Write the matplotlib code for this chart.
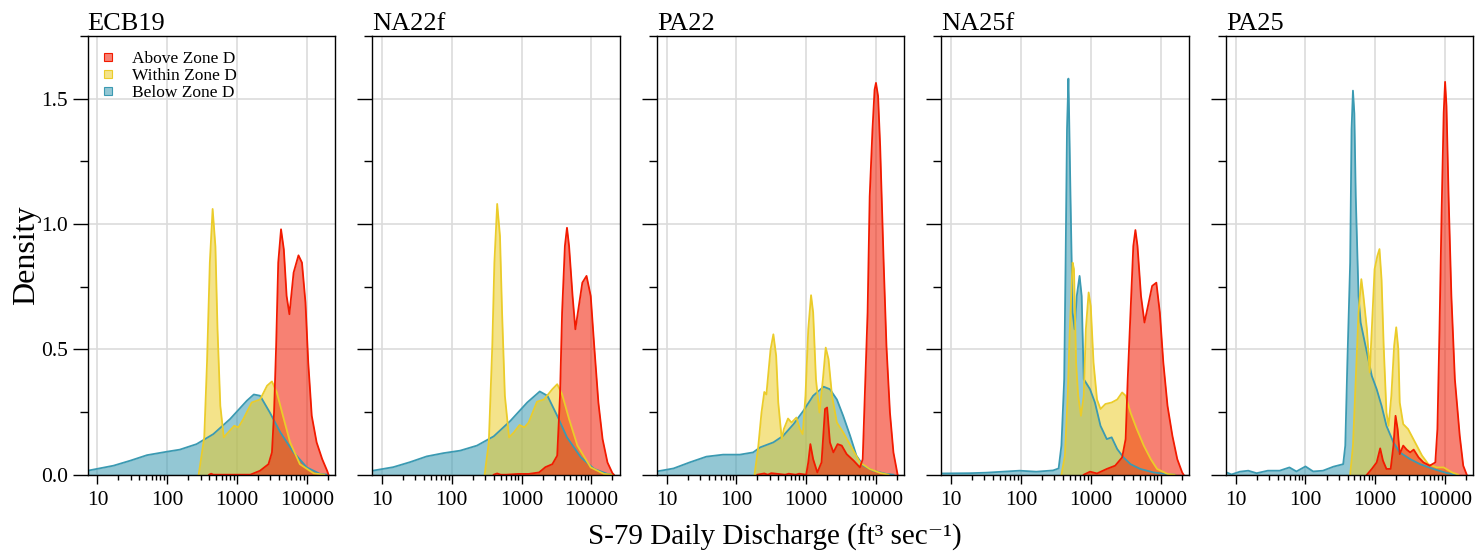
import matplotlib.pyplot as plt
import numpy as np
from matplotlib.lines import Line2D
from matplotlib.ticker import FixedLocator, NullFormatter

plt.rcParams['font.family'] = ['Liberation Serif', 'DejaVu Serif']

panel_names = ['ECB19', 'NA22f', 'PA22', 'NA25f', 'PA25']
zone_labels = ['Above Zone D', 'Within Zone D', 'Below Zone D']
zone_colors = ['#F21A00', '#EBCC2A', '#3B9AB2']

# x values are log10 of S-79 discharge, y values are density
ecb19_below_x = [0.86, 1.23, 1.47, 1.71, 2.00, 2.18, 2.42, 2.66, 2.90, 3.14, 3.24, 3.33, 3.47, 3.62, 3.81, 4.00, 4.19, 4.30]
ecb19_below_y = [0.016, 0.036, 0.056, 0.078, 0.092, 0.100, 0.122, 0.162, 0.222, 0.295, 0.320, 0.315, 0.248, 0.169, 0.089, 0.029, 0.003, 0.0]
ecb19_within_x = [2.45, 2.53, 2.57, 2.61, 2.65, 2.69, 2.72, 2.76, 2.81, 2.85, 2.96, 3.02, 3.09, 3.21, 3.33, 3.43, 3.50, 3.57, 3.67, 3.76, 3.90, 4.10, 4.25]
ecb19_within_y = [0.0, 0.149, 0.45, 0.846, 1.06, 0.91, 0.58, 0.275, 0.149, 0.162, 0.195, 0.189, 0.222, 0.288, 0.30, 0.355, 0.372, 0.328, 0.222, 0.129, 0.042, 0.005, 0.0]
ecb19_above_x = [2.60, 2.63, 2.66, 3.19, 3.33, 3.45, 3.50, 3.53, 3.56, 3.59, 3.63, 3.67, 3.71, 3.75, 3.81, 3.88, 3.93, 3.98, 4.02, 4.07, 4.14, 4.22, 4.29, 4.31]
ecb19_above_y = [0.0, 0.004, 0.0, 0.0, 0.016, 0.042, 0.089, 0.248, 0.514, 0.846, 0.979, 0.899, 0.713, 0.64, 0.806, 0.875, 0.846, 0.687, 0.447, 0.235, 0.129, 0.062, 0.016, 0.0]

na22f_below_x = [0.866, 1.16, 1.40, 1.64, 1.88, 2.12, 2.36, 2.60, 2.84, 3.08, 3.26, 3.37, 3.51, 3.65, 3.85, 4.04, 4.23, 4.32]
na22f_below_y = [0.016, 0.03, 0.05, 0.073, 0.086, 0.096, 0.116, 0.153, 0.215, 0.288, 0.332, 0.315, 0.235, 0.149, 0.069, 0.023, 0.003, 0.0]
na22f_within_x = [2.47, 2.53, 2.58, 2.61, 2.65, 2.69, 2.72, 2.76, 2.82, 2.89, 2.97, 3.04, 3.10, 3.22, 3.32, 3.44, 3.51, 3.58, 3.68, 3.80, 3.99, 4.18, 4.30]
na22f_within_y = [0.0, 0.129, 0.514, 0.846, 1.08, 0.952, 0.647, 0.315, 0.149, 0.169, 0.198, 0.189, 0.208, 0.291, 0.30, 0.341, 0.361, 0.321, 0.222, 0.116, 0.029, 0.003, 0.0]
na22f_above_x = [2.60, 2.65, 2.70, 2.78, 2.95, 3.10, 3.25, 3.34, 3.44, 3.51, 3.55, 3.58, 3.62, 3.65, 3.68, 3.73, 3.77, 3.82, 3.87, 3.93, 3.99, 4.04, 4.10, 4.16, 4.23, 4.30, 4.32]
na22f_above_y = [0.0, 0.005, 0.0, 0.0, 0.003, 0.003, 0.009, 0.03, 0.042, 0.076, 0.315, 0.647, 0.912, 0.985, 0.912, 0.713, 0.58, 0.673, 0.766, 0.793, 0.713, 0.514, 0.288, 0.142, 0.049, 0.007, 0.0]

pa22_below_x = [0.86, 1.10, 1.33, 1.57, 1.81, 2.05, 2.24, 2.34, 2.53, 2.67, 2.82, 2.96, 3.10, 3.25, 3.34, 3.44, 3.53, 3.63, 3.72, 3.82, 3.96, 4.15, 4.25]
pa22_below_y = [0.013, 0.025, 0.049, 0.072, 0.08, 0.08, 0.089, 0.109, 0.129, 0.155, 0.202, 0.255, 0.315, 0.351, 0.341, 0.30, 0.235, 0.155, 0.076, 0.036, 0.016, 0.003, 0.0]
pa22_within_x = [2.26, 2.31, 2.36, 2.40, 2.43, 2.49, 2.53, 2.57, 2.60, 2.65, 2.68, 2.74, 2.79, 2.86, 2.91, 2.95, 2.99, 3.03, 3.07, 3.10, 3.14, 3.19, 3.24, 3.28, 3.32, 3.37, 3.44, 3.53, 3.65, 3.77, 3.91, 4.06, 4.18]
pa22_within_y = [0.0, 0.102, 0.248, 0.33, 0.32, 0.50, 0.56, 0.474, 0.288, 0.142, 0.182, 0.224, 0.208, 0.228, 0.182, 0.162, 0.315, 0.58, 0.716, 0.647, 0.381, 0.248, 0.381, 0.507, 0.461, 0.315, 0.208, 0.169, 0.109, 0.049, 0.023, 0.007, 0.0]
pa22_above_x = [2.30, 2.40, 2.45, 2.50, 2.70, 2.75, 2.85, 2.90, 3.00, 3.03, 3.06, 3.10, 3.16, 3.22, 3.27, 3.30, 3.34, 3.39, 3.45, 3.51, 3.58, 3.68, 3.77, 3.81, 3.84, 3.88, 3.91, 3.95, 3.98, 4.00, 4.03, 4.06, 4.11, 4.15, 4.20, 4.25, 4.31]
pa22_above_y = [0.0, 0.005, 0.0, 0.006, 0.0, 0.004, 0.0, 0.004, 0.0, 0.049, 0.122, 0.062, 0.009, 0.049, 0.262, 0.268, 0.129, 0.089, 0.122, 0.116, 0.082, 0.056, 0.029, 0.062, 0.315, 0.647, 1.11, 1.377, 1.536, 1.563, 1.51, 1.31, 0.846, 0.514, 0.248, 0.089, 0.0]

na25f_below_x = [0.87, 1.26, 1.50, 1.74, 1.98, 2.22, 2.46, 2.54, 2.58, 2.62, 2.64, 2.66, 2.68, 2.69, 2.71, 2.74, 2.77, 2.80, 2.84, 2.87, 2.90, 2.93, 2.99, 3.06, 3.14, 3.23, 3.30, 3.38, 3.47, 3.57, 3.71, 3.90, 4.10, 4.20]
na25f_below_y = [0.005, 0.006, 0.008, 0.012, 0.016, 0.012, 0.017, 0.025, 0.116, 0.381, 0.846, 1.377, 1.58, 1.44, 1.11, 0.647, 0.58, 0.713, 0.793, 0.713, 0.381, 0.368, 0.341, 0.288, 0.195, 0.142, 0.149, 0.102, 0.069, 0.042, 0.023, 0.009, 0.002, 0.0]
na25f_within_x = [2.58, 2.63, 2.67, 2.70, 2.74, 2.76, 2.79, 2.82, 2.86, 2.90, 2.93, 2.97, 3.00, 3.04, 3.09, 3.14, 3.21, 3.30, 3.38, 3.45, 3.50, 3.57, 3.66, 3.76, 3.86, 3.95, 4.10, 4.20]
na25f_within_y = [0.0, 0.076, 0.315, 0.58, 0.846, 0.82, 0.447, 0.315, 0.235, 0.315, 0.58, 0.727, 0.673, 0.447, 0.30, 0.262, 0.282, 0.288, 0.30, 0.328, 0.315, 0.248, 0.182, 0.116, 0.062, 0.023, 0.003, 0.0]
na25f_above_x = [2.90, 2.99, 3.09, 3.23, 3.35, 3.45, 3.50, 3.53, 3.57, 3.61, 3.64, 3.67, 3.72, 3.77, 3.82, 3.88, 3.94, 3.99, 4.04, 4.10, 4.17, 4.24, 4.31, 4.33]
na25f_above_y = [0.0, 0.012, 0.005, 0.023, 0.036, 0.069, 0.142, 0.381, 0.647, 0.912, 0.976, 0.912, 0.713, 0.607, 0.673, 0.753, 0.766, 0.647, 0.447, 0.275, 0.155, 0.062, 0.009, 0.0]

pa25_below_x = [0.87, 0.94, 1.06, 1.18, 1.30, 1.46, 1.63, 1.77, 1.87, 2.00, 2.11, 2.25, 2.40, 2.54, 2.57, 2.60, 2.64, 2.66, 2.68, 2.70, 2.72, 2.76, 2.79, 2.85, 2.90, 2.95, 3.02, 3.09, 3.16, 3.26, 3.35, 3.50, 3.64, 3.83, 4.02, 4.15]
pa25_below_y = [0.009, 0.001, 0.012, 0.016, 0.006, 0.016, 0.016, 0.029, 0.013, 0.033, 0.013, 0.016, 0.032, 0.042, 0.116, 0.447, 0.846, 1.377, 1.532, 1.44, 1.11, 0.713, 0.607, 0.527, 0.461, 0.394, 0.341, 0.275, 0.195, 0.129, 0.089, 0.062, 0.042, 0.023, 0.007, 0.0]
pa25_within_x = [2.64, 2.68, 2.72, 2.76, 2.80, 2.83, 2.88, 2.92, 2.95, 2.99, 3.03, 3.06, 3.09, 3.12, 3.16, 3.19, 3.23, 3.27, 3.30, 3.33, 3.35, 3.40, 3.47, 3.57, 3.67, 3.76, 3.88, 3.98, 4.10, 4.19]
pa25_within_y = [0.0, 0.116, 0.381, 0.647, 0.78, 0.713, 0.58, 0.408, 0.58, 0.82, 0.873, 0.90, 0.777, 0.514, 0.248, 0.195, 0.315, 0.514, 0.588, 0.50, 0.288, 0.202, 0.182, 0.129, 0.076, 0.042, 0.029, 0.029, 0.009, 0.0]
pa25_above_x = [2.88, 2.95, 3.02, 3.07, 3.11, 3.16, 3.22, 3.26, 3.29, 3.32, 3.35, 3.40, 3.45, 3.50, 3.55, 3.62, 3.69, 3.78, 3.86, 3.89, 3.92, 3.95, 3.98, 4.00, 4.02, 4.05, 4.09, 4.14, 4.21, 4.26, 4.31]
pa25_above_y = [0.0, 0.023, 0.049, 0.105, 0.056, 0.023, 0.023, 0.116, 0.235, 0.182, 0.082, 0.116, 0.10, 0.089, 0.10, 0.069, 0.049, 0.036, 0.049, 0.182, 0.58, 1.045, 1.444, 1.567, 1.47, 1.11, 0.713, 0.381, 0.155, 0.036, 0.0]

# (above, within, below) curves for each panel
panel_curves = [
    [(ecb19_above_x, ecb19_above_y), (ecb19_within_x, ecb19_within_y), (ecb19_below_x, ecb19_below_y)],
    [(na22f_above_x, na22f_above_y), (na22f_within_x, na22f_within_y), (na22f_below_x, na22f_below_y)],
    [(pa22_above_x, pa22_above_y), (pa22_within_x, pa22_within_y), (pa22_below_x, pa22_below_y)],
    [(na25f_above_x, na25f_above_y), (na25f_within_x, na25f_within_y), (na25f_below_x, na25f_below_y)],
    [(pa25_above_x, pa25_above_y), (pa25_within_x, pa25_within_y), (pa25_below_x, pa25_below_y)],
]

fig = plt.figure(figsize=(14.79, 5.53), dpi=100)

for i, name in enumerate(panel_names):
    ax = fig.add_axes([0.0593 + i * 0.1924, 0.1416, 0.1672, 0.7933])
    # below first, above last so red sits on top
    for (xs, ys), col in reversed(list(zip(panel_curves[i], zone_colors))):
        q = 10 ** np.array(xs)
        ax.fill_between(q, ys, 0, color=col, alpha=0.55, lw=0)
        ax.plot(q, ys, color=col, lw=1.3)

    ax.set_xscale('log')
    ax.set_xlim(7.25, 25300)
    ax.set_ylim(0, 1.75)
    ax.set_xticks([10, 100, 1000, 10000])
    ax.set_xticklabels(['10', '100', '1000', '10000'])
    minor = [m * d for d in (10, 100, 1000) for m in range(2, 10)] + [20000]
    ax.xaxis.set_minor_locator(FixedLocator(minor))
    ax.xaxis.set_minor_formatter(NullFormatter())
    ax.set_yticks([0, 0.5, 1.0, 1.5])
    ax.set_yticklabels(['0.0', '0.5', '1.0', '1.5'])
    ax.yaxis.set_minor_locator(FixedLocator([0.25, 0.75, 1.25, 1.75]))

    ax.grid(True, which='major', color='#dcdcdc', lw=1.2)
    ax.set_axisbelow(True)
    for s in ax.spines.values():
        s.set_linewidth(1.0)
    ax.tick_params(axis='x', which='major', length=6.5, width=1.0, labelsize=15.5, pad=5)
    ax.tick_params(axis='x', which='minor', length=3.6, width=1.0)
    ax.tick_params(axis='y', which='major', length=11, width=1.0, labelsize=15.5, pad=3)
    ax.tick_params(axis='y', which='minor', length=5.5, width=1.0)
    if i > 0:
        ax.tick_params(axis='y', labelleft=False)

    ax.set_title(name, loc='left', fontsize=19, pad=4)

    if i == 0:
        handles = [Line2D([], [], ls='none', marker='s', markersize=6,
                          markerfacecolor=(c, 0.55), markeredgecolor=c, markeredgewidth=0.8)
                   for c in zone_colors]
        ax.legend(handles, zone_labels, loc='upper left', bbox_to_anchor=(-0.024, 1.005),
                  frameon=False, fontsize=12.5, handlelength=1.0, handletextpad=0.9,
                  labelspacing=0.05, borderaxespad=0.6)

fig.text(27 / 1479, 1 - 255 / 553, 'Density', rotation=90, ha='center', va='center', fontsize=23)
fig.text(775 / 1479, 1 - 537 / 553, 'S-79 Daily Discharge (ft³ sec⁻¹)', ha='center', va='center', fontsize=21)

fig.savefig('out.png', dpi=100)
